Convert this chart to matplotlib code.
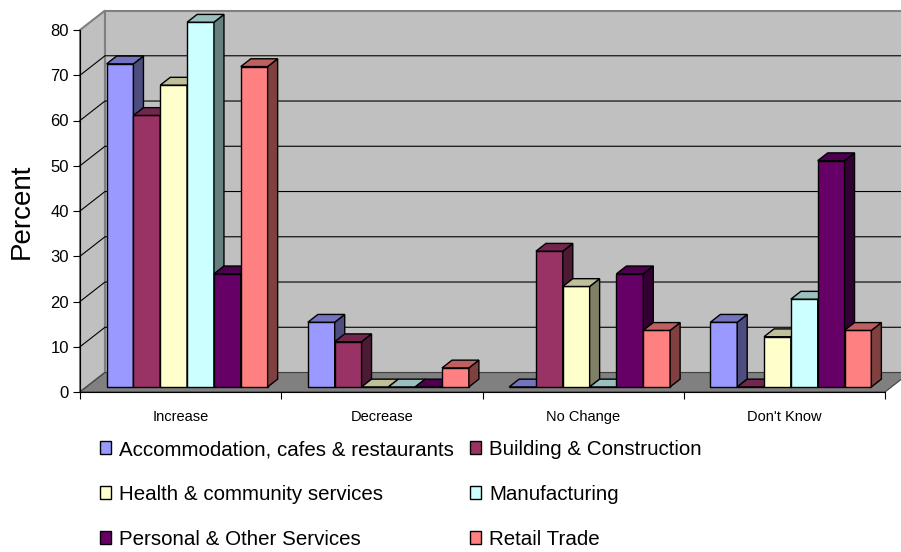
import matplotlib
matplotlib.use('Agg')
import matplotlib.pyplot as plt
from matplotlib.patches import Polygon, Patch
from matplotlib.colors import to_rgb
import numpy as np

plt.rcParams['font.family'] = ['Liberation Sans', 'DejaVu Sans']

categories = ['Increase', 'Decrease', 'No Change', "Don't Know"]
series = ['Accommodation, cafes & restaurants', 'Building & Construction',
          'Health & community services', 'Manufacturing',
          'Personal & Other Services', 'Retail Trade']
accommodation = [71.4, 14.3, 0.0, 14.3]
building = [60.0, 10.0, 30.0, 0.0]
health = [66.7, 0.0, 22.2, 11.1]
manufacturing = [80.6, 0.0, 0.0, 19.4]
personal = [25.0, 0.0, 25.0, 50.0]
retail = [70.8, 4.2, 12.5, 12.5]
values = [accommodation, building, health, manufacturing, personal, retail]
colors = ['#9999FF', '#993366', '#FFFFCC', '#CCFFFF', '#660066', '#FF8080']

# oblique 3d: depth shifts up and to the right
DX = 25 / 201.25      # category units per full depth
DY = 19.5 / 4.53      # value units per full depth
YMAX = 80

def proj(x, v, d):
    return (x + d * DX, v + d * DY)

def shade(c, f):
    r, g, b = to_rgb(c)
    return (r * f, g * f, b * f)

fig = plt.figure(figsize=(9.01, 5.52), dpi=100)
ax = fig.add_axes([80 / 901, 160 / 552, 805 / 901, 362 / 552])
ax.set_xlim(0, len(categories))
ax.set_ylim(0, YMAX)
ax.patch.set_visible(False)

ncat = len(categories)

def poly(pts, fc, ec, lw, z):
    p = Polygon(pts, closed=True, facecolor=fc, edgecolor=ec, linewidth=lw,
                zorder=z, clip_on=False, joinstyle='miter')
    ax.add_patch(p)

# walls and floor
poly([proj(0, 0, 0), proj(0, YMAX, 0), proj(0, YMAX, 1), proj(0, 0, 1)],
     '#C0C0C0', '#808080', 1.5, 0.5)
poly([proj(0, 0, 1), proj(0, YMAX, 1), proj(ncat, YMAX, 1), proj(ncat, 0, 1)],
     '#C0C0C0', '#808080', 1.5, 0.5)
for v in range(10, YMAX, 10):
    a, b, c = proj(0, v, 0), proj(0, v, 1), proj(ncat, v, 1)
    ax.plot([a[0], b[0], c[0]], [a[1], b[1], c[1]], color='black', lw=0.8,
            zorder=0.6, clip_on=False)
poly([proj(0, 0, 0), proj(ncat, 0, 0), proj(ncat, 0, 1), proj(0, 0, 1)],
     '#808080', '#404040', 0.8, 0.7)

# bars
bar_w = 0.8 / len(series)
d_front, d_back = 0.26, 0.66
z = 1.0
for i in range(ncat):
    for j, vals in enumerate(values):
        v = vals[i]
        x0 = i + 0.1 + j * bar_w
        x1 = x0 + bar_w
        c = colors[j]
        poly([proj(x0, 0, d_front), proj(x1, 0, d_front),
              proj(x1, v, d_front), proj(x0, v, d_front)], c, 'black', 1.0, z)
        poly([proj(x1, 0, d_front), proj(x1, 0, d_back),
              proj(x1, v, d_back), proj(x1, v, d_front)],
             shade(c, 0.5), 'black', 1.0, z)
        poly([proj(x0, v, d_front), proj(x1, v, d_front),
              proj(x1, v, d_back), proj(x0, v, d_back)],
             shade(c, 0.75), 'black', 1.0, z)
        z += 0.01

# axes
for s in ['top', 'right']:
    ax.spines[s].set_visible(False)
ax.spines['left'].set_color('black')
ax.spines['bottom'].set_color('black')
ax.spines['left'].set_zorder(10)
ax.spines['bottom'].set_zorder(10)
ax.set_yticks(np.arange(0, YMAX + 1, 10))
ax.tick_params(axis='y', direction='out', length=5, width=0.8, labelsize=12, pad=3)
ax.set_xticks(np.arange(ncat + 1))
ax.set_xticklabels([])
ax.tick_params(axis='x', which='major', direction='out', length=5, width=0.8)
ax.set_xticks(np.arange(ncat) + 0.5, minor=True)
ax.set_xticklabels(categories, minor=True, fontsize=10.5)
ax.tick_params(axis='x', which='minor', length=0, pad=13)

fig.text(22 / 901, 1 - 211 / 552, 'Percent', rotation=90, ha='center',
         va='center', fontsize=20)

# legend, row-major order
order = [0, 2, 4, 1, 3, 5]
handles = [Patch(facecolor=colors[k], edgecolor='black', linewidth=1.0) for k in order]
labels = [series[k] for k in order]
fig.legend(handles, labels, ncol=2, loc='upper left',
           bbox_to_anchor=(100 / 901, 1 - 440 / 552), frameon=False,
           fontsize=14.8, handlelength=0.54, handleheight=0.6,
           handletextpad=0.4, columnspacing=0.75, labelspacing=1.27,
           borderpad=0, borderaxespad=0)

fig.savefig('out.png', dpi=100)
